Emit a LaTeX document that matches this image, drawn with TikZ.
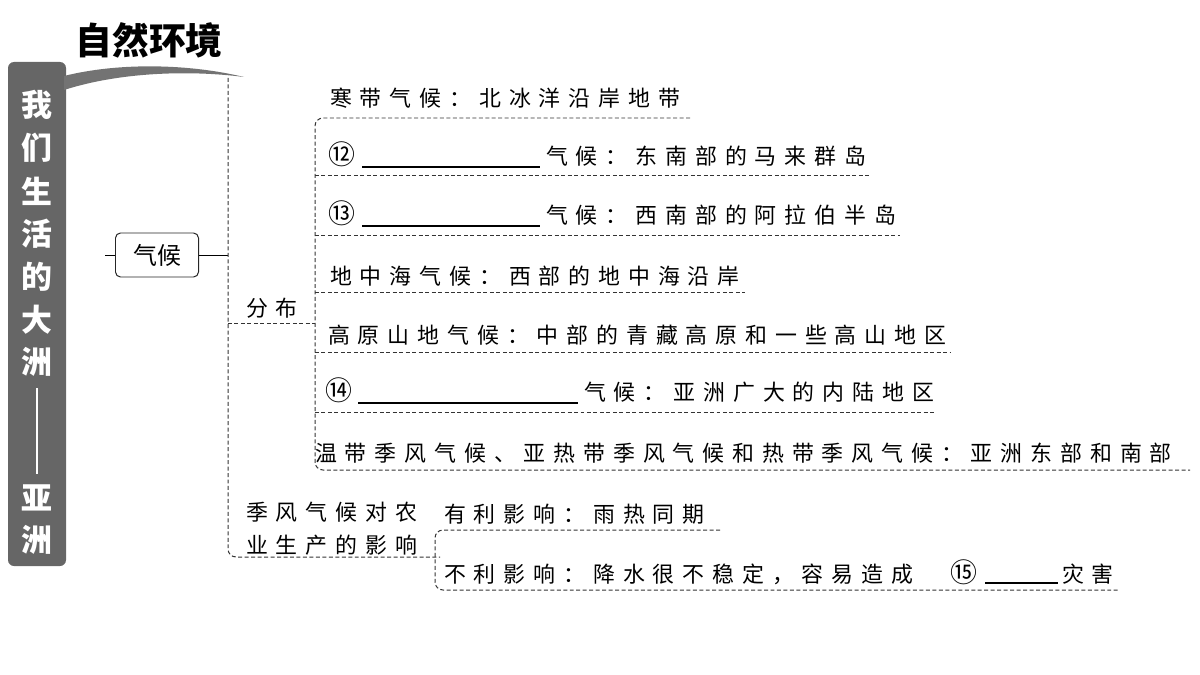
\documentclass[tikz,border=0pt]{standalone}
\usepackage{fontspec}
\setmainfont{Noto Sans CJK SC}
\begin{document}
\begin{tikzpicture}[x=1bp,y=-1bp,
  dsh/.style={draw=black!80,dashed,dash pattern=on 4pt off 2.5pt,line width=1pt,rounded corners=8bp},
  t/.style={anchor=base west,inner sep=0,font=\fontsize{22}{24}\selectfont\addfontfeature{LetterSpace=36}},
  cn/.style={anchor=base west,inner sep=0,font=\fontsize{27}{27}\selectfont},
  bl/.style={line width=1.2pt}]
\useasboundingbox (0,0) rectangle (1200,675);
% left bar
\fill[black!60,rounded corners=6bp] (8,62) rectangle (66,566);
\fill[black!55] (64,76) .. controls (120,62) and (190,64) .. (244,77) .. controls (190,70) and (120,72) .. (64,90) -- cycle;
\node[inner sep=0,font=\fontsize{37}{37}\bfseries\selectfont] (title) at (149,40) {自然环境};
\foreach \c/\y [count=\i] in {我/105,们/148,生/191,活/234,的/277,大/320,洲/362,亚/498,洲/540}
  \node[white,font=\fontsize{31}{31}\bfseries\selectfont,inner sep=0] (v\i) at (37,\y) {\c};
\draw[white,line width=2.5pt] (37,388) -- (37,474);
% 气候
\node[draw=black!85,rounded corners=5bp,line width=1pt,minimum width=83bp,minimum height=44bp,font=\fontsize{24}{24}\selectfont] (qh) at (157,255) {气候};
\draw[line width=1pt] (105,255) -- (qh.west) (qh.east) -- (228,255);
% main trunk
\draw[dsh] (228,78) -- (228,557) -- (440,557);
\draw[dsh] (228,323) -- (315,323);
\node[t] (fb) at (246,316) {分布};
% 分布 bracket
\draw[dsh] (690,118) -- (315,118) -- (315,470) -- (1190,470);
\foreach \y/\e in {175/870,235/900,292/745,352/950,412/935}
  \draw[dsh,rounded corners=0] (315,\y) -- (\e,\y);
\node[t] (r1) at (330,107) {寒带气候：北冰洋沿岸地带};
\node[cn] (n12) at (328,165) {⑫};
\draw[bl] (362,167) -- (540,167);
\node[t] (r2) at (546,165) {气候：东南部的马来群岛};
\node[cn] (n13) at (328,224) {⑬};
\draw[bl] (362,226) -- (540,226);
\node[t] (r3) at (546,224) {气候：西南部的阿拉伯半岛};
\node[t] (r4) at (330,284) {地中海气候：西部的地中海沿岸};
\node[t] (r5) at (328,343) {高原山地气候：中部的青藏高原和一些高山地区};
\node[cn] (n14) at (325,400) {⑭};
\draw[bl] (358,403) -- (578,403);
\node[t] (r6) at (584,400) {气候：亚洲广大的内陆地区};
\node[t] (r7) at (315,461) {温带季风气候、亚热带季风气候和热带季风气候：亚洲东部和南部};
% 季风 impact
\node[t] (jf1) at (246,520) {季风气候对农};
\node[t] (jf2) at (246,553) {业生产的影响};
\node[t] (y1) at (444,522) {有利影响：雨热同期};
\draw[dsh] (720,530) -- (435,530) -- (435,590) -- (1120,590);
\node[t] (y2) at (444,582) {不利影响：降水很不稳定，容易造成};
\node[cn] (n15) at (950,582) {⑮};
\draw[bl] (985,583) -- (1058,583);
\node[t] (y3) at (1062,582) {灾害};
\end{tikzpicture}
\end{document}
